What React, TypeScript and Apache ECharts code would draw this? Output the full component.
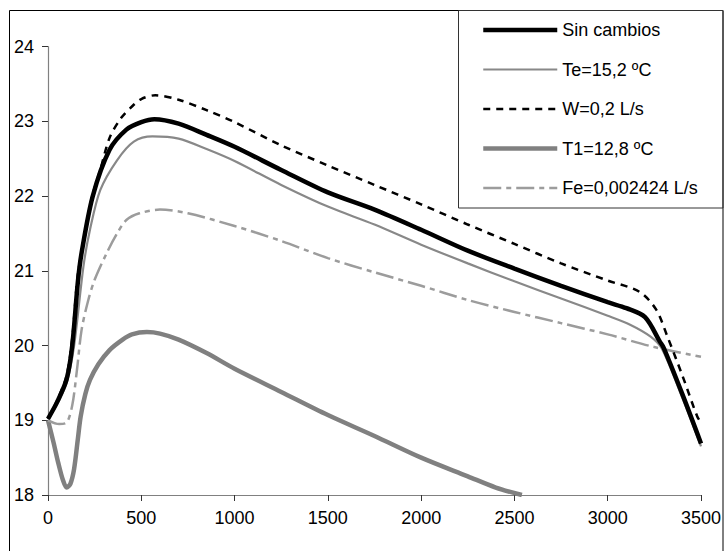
import React, { useEffect, useRef } from "react";
import * as echarts from "echarts";

const seriesNames = ["Sin cambios", "Te=15,2 ºC", "W=0,2 L/s", "T1=12,8 ºC", "Fe=0,002424 L/s"];

const sinX = [0, 50, 100, 130, 160, 180, 240, 330, 420, 500, 570, 700, 850, 1000, 1250, 1500, 1750, 2000, 2250, 2500, 2750, 3000, 3100, 3200, 3280, 3300, 3400, 3500];
const sinY = [19.02, 19.25, 19.55, 20.0, 20.85, 21.24, 22.0, 22.62, 22.89, 22.99, 23.03, 22.97, 22.82, 22.66, 22.35, 22.05, 21.82, 21.55, 21.27, 21.03, 20.8, 20.58, 20.5, 20.38, 20.05, 19.97, 19.35, 18.69];

const teX = [0, 50, 100, 140, 190, 225, 280, 370, 460, 560, 700, 850, 1000, 1250, 1500, 1750, 2000, 2250, 2500, 2750, 3000, 3120, 3230, 3290, 3400, 3500];
const teY = [19.02, 19.22, 19.5, 20.0, 21.06, 21.55, 22.08, 22.48, 22.73, 22.8, 22.77, 22.63, 22.47, 22.15, 21.86, 21.62, 21.35, 21.1, 20.86, 20.63, 20.4, 20.28, 20.12, 19.96, 19.3, 18.65];

const wX = [0, 50, 100, 130, 160, 200, 234, 280, 330, 390, 450, 500, 575, 700, 850, 1000, 1250, 1500, 1750, 2000, 2250, 2500, 2750, 3000, 3170, 3260, 3320, 3400, 3480, 3500];
const wY = [19.02, 19.27, 19.6, 20.1, 20.95, 21.5, 21.97, 22.35, 22.78, 23.04, 23.2, 23.3, 23.35, 23.29, 23.15, 22.99, 22.68, 22.41, 22.15, 21.89, 21.62, 21.36, 21.1, 20.87, 20.72, 20.48, 20.12, 19.6, 19.05, 18.97];

const t1X = [0, 30, 55, 80, 100, 120, 140, 160, 175, 200, 225, 270, 330, 400, 450, 530, 600, 700, 850, 1000, 1250, 1500, 1750, 2000, 2250, 2400, 2540];
const t1Y = [19.0, 18.7, 18.43, 18.2, 18.1, 18.15, 18.35, 18.75, 19.05, 19.35, 19.54, 19.75, 19.94, 20.08, 20.15, 20.18, 20.16, 20.08, 19.9, 19.69, 19.38, 19.07, 18.79, 18.5, 18.25, 18.1, 18.0];

const feX = [0, 60, 100, 130, 155, 180, 215, 250, 315, 370, 420, 490, 600, 750, 1000, 1250, 1500, 1750, 2000, 2250, 2500, 2750, 3000, 3250, 3500];
const feY = [19.0, 18.95, 18.97, 19.2, 19.67, 20.21, 20.6, 20.88, 21.24, 21.5, 21.68, 21.77, 21.82, 21.77, 21.6, 21.4, 21.17, 20.98, 20.8, 20.61, 20.45, 20.3, 20.15, 19.98, 19.85];

const xTicks = [0, 500, 1000, 1500, 2000, 2500, 3000, 3500];
const yTicks = [18, 19, 20, 21, 22, 23, 24];

const pairs = (xs: number[], ys: number[]) => xs.map((x, i) => [x, ys[i]]);

const FONT = "'Liberation Sans', Arial, sans-serif";

export default function App() {
  const ref = useRef<HTMLDivElement>(null);
  useEffect(() => {
    document.body.style.margin = "0";
    if (!ref.current) return;
    const chart = echarts.init(ref.current, null, { renderer: "svg" });
    const styles = [
      { color: "#000000", width: 4.5, type: "solid" as any },
      { color: "#888888", width: 2.2, type: "solid" as any },
      { color: "#000000", width: 2.5, type: [7, 6] as any },
      { color: "#808080", width: 4.5, type: "solid" as any },
      { color: "#9c9c9c", width: 2.5, type: [18, 5, 5, 5] as any },
    ];
    const datas = [pairs(sinX, sinY), pairs(teX, teY), pairs(wX, wY), pairs(t1X, t1Y), pairs(feX, feY)];
    const order = [3, 4, 1, 2, 0];
    chart.setOption({
      animation: false,
      backgroundColor: "#ffffff",
      grid: { left: 48, right: 24, top: 46.7, bottom: 56 },
      xAxis: {
        type: "value",
        min: xTicks[0],
        max: xTicks[xTicks.length - 1],
        interval: 500,
        axisLine: { show: true, lineStyle: { color: "#808080", width: 1.2 } },
        axisTick: { show: true, length: 6, lineStyle: { color: "#333", width: 1 } },
        axisLabel: { color: "#000", fontSize: 18, fontFamily: FONT, margin: 14, formatter: (v: number) => String(v) },
        splitLine: { show: false },
      },
      yAxis: {
        type: "value",
        min: yTicks[0],
        max: yTicks[yTicks.length - 1],
        interval: 1,
        axisLine: { show: true, lineStyle: { color: "#808080", width: 1.2 } },
        axisTick: { show: true, length: 6, lineStyle: { color: "#333", width: 1 } },
        axisLabel: { color: "#000", fontSize: 18, fontFamily: FONT, margin: 14, formatter: (v: number) => String(v) },
        splitLine: { show: false },
      },
      legend: {
        orient: "vertical",
        left: 458,
        top: 11,
        padding: [9, 0, 0, 23],
        itemWidth: 74,
        itemHeight: 14,
        itemGap: 19.5,
        textStyle: { color: "#000", fontSize: 18, fontFamily: FONT, lineHeight: 20 },
        data: seriesNames.map((n, i) => ({
          name: n,
          itemStyle: { color: "rgba(0,0,0,0)", borderWidth: 0, opacity: 0 },
          lineStyle: { width: styles[i].width, color: styles[i].color, type: styles[i].type },
        })),
        selectedMode: false,
      },
      graphic: [
        {
          type: "rect",
          shape: { x: 9.5, y: 10.5, width: 713.5, height: 600 },
          style: { fill: "none", stroke: "#000", lineWidth: 1 },
          silent: true,
          z: 100,
        },
        {
          type: "rect",
          shape: { x: 458.5, y: 10.5, width: 264.5, height: 197.5 },
          style: { fill: "none", stroke: "#333", lineWidth: 1 },
          silent: true,
          z: 100,
        },
      ],
      series: order.map((i) => ({
        name: seriesNames[i],
        type: "line",
        data: datas[i],
        symbol: "none",
        smooth: 0.3,
        clip: true,
        lineStyle: { color: styles[i].color, width: styles[i].width, type: styles[i].type, cap: "butt" },
        itemStyle: { color: styles[i].color },
        z: 2,
      })),
    });
    return () => chart.dispose();
  }, []);
  return <div ref={ref} style={{ width: 725, height: 551 }} />;
}
